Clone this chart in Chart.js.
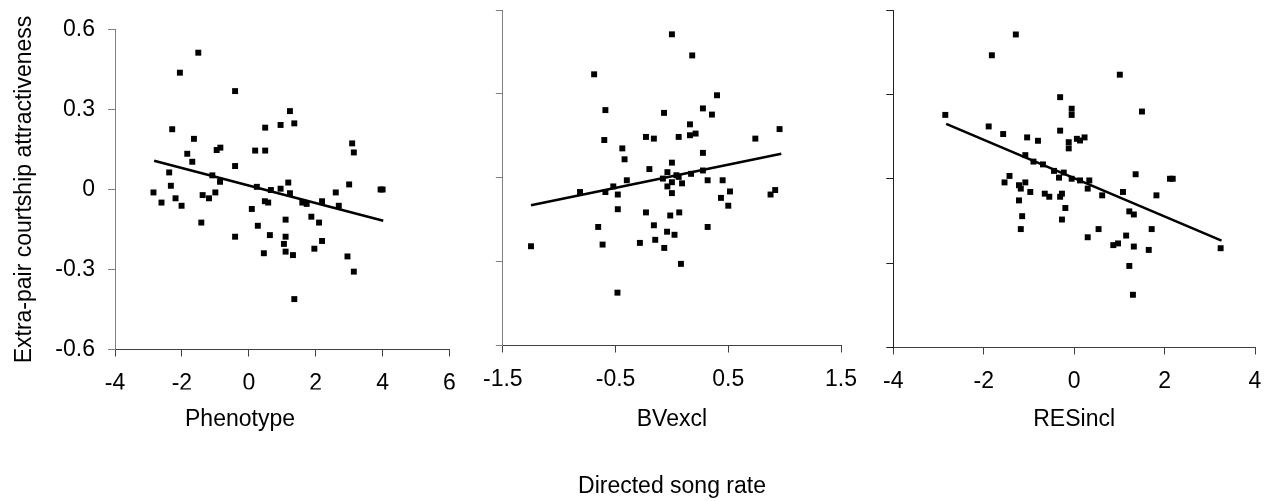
<!DOCTYPE html>
<html>
<head>
<meta charset="utf-8">
<script src="https://cdn.jsdelivr.net/npm/chart.js@4.4.0/dist/chart.umd.min.js"></script>
<style>
  html, body { margin: 0; padding: 0; background: #fff; }
  #wrap { position: relative; width: 1275px; height: 501px; overflow: hidden; }
  #wrap canvas { position: absolute; top: 0; }
  #xtitle {
    position: absolute; left: 472px; width: 400px; top: 472px; line-height: 26px;
    text-align: center; font-size: 23px; font-family: "Liberation Sans", Arial, sans-serif; color: #000;
  }
</style>
</head>
<body>
<div id="wrap">
  <canvas id="phenoChart" width="470" height="501" style="left:0px"></canvas>
  <canvas id="bvChart" width="400" height="501" style="left:470px"></canvas>
  <canvas id="resChart" width="405" height="501" style="left:870px"></canvas>
  <div id="xtitle">Directed song rate</div>
</div>
<script>
// Phenotype panel
const phenoX = [-1.51, -2.06, -0.41, 1.23, 0.95, 1.36, 0.49, -2.29, -1.64, 3.09, 3.14, -0.96, -0.85, 0.19, 0.49,
    -1.84, -1.69, -0.41, -2.38, -1.09, -0.86, 1.18, -2.33, 3.0, 0.24, 0.95, 3.94, 4.0, -2.85, -2.61, -2.19, -2.01,
    -1.38, -1.19, -1.0, -1.42, -0.41, 0.09, 0.66, 0.48, 0.58, 1.23, 0.27, 0.63, 0.45, 1.1, 1.1, 1.05, 1.1, 1.32,
    1.36, 1.6, 1.73, 1.87, 2.1, 2.19, 2.19, 1.96, 2.6, 2.69, 2.95, 3.14];
const phenoY = [0.513, 0.438, 0.369, 0.294, 0.242, 0.248, 0.232, 0.226, 0.19, 0.173, 0.139, 0.148, 0.157, 0.146, 0.146,
    0.134, 0.104, 0.088, 0.064, 0.053, 0.029, 0.026, 0.014, 0.019, 0.01, 0.003, 0.0, 0.0, -0.011, -0.049, -0.033, -0.061,
    -0.021, -0.033, -0.011, -0.124, -0.177, -0.073, -0.002, -0.044, -0.049, -0.014, -0.136, -0.171, -0.239, -0.113, -0.177, -0.204, -0.233, -0.246,
    -0.411, -0.049, -0.054, -0.102, -0.124, -0.044, -0.193, -0.222, -0.011, -0.061, -0.251, -0.308];
const phenoFitX = [-2.83, 4.02];
const phenoFitY = [0.108, -0.117];
const phenoTicks = [-4, -2, 0, 2, 4, 6];

// BVexcl panel
const bvX = [0.0, 0.18, -0.69, 0.40, -0.59, 0.275, 0.355, -0.07, 0.16, 0.955, -0.60, -0.23, -0.16, 0.06, 0.16,
    0.21, 0.74, -0.44, -0.42, 0.275, 0.0, -0.2, -0.04, -0.08, 0.04, 0.06, 0.17, 0.275, -0.40, 0.317,
    0.45, 0.0, 0.09, -0.52, -0.04, -0.815, -0.59, -0.48, 0.0, 0.435, 0.515, 0.50, 0.916, 0.875, -0.48,
    -0.23, -0.015, 0.065, -0.654, -0.16, 0.317, -0.043, 0.023, -1.25, -0.615, -0.284, -0.148, -0.068, 0.08, -0.483];
const bvY = [0.513, 0.4375, 0.37, 0.295, 0.242, 0.248, 0.226, 0.232, 0.191, 0.174, 0.135, 0.146, 0.14, 0.146, 0.152,
    0.158, 0.14, 0.105, 0.066, 0.089, 0.054, 0.031, 0.02, -0.003, 0.009, 0.003, 0.014, 0.026, -0.009, -0.009,
    -0.009, -0.016, -0.02, -0.031, -0.031, -0.051, -0.051, -0.06, -0.055, -0.072, -0.049, -0.1, -0.044, -0.06, -0.1125,
    -0.124, -0.135, -0.124, -0.176, -0.17, -0.176, -0.193, -0.204, -0.245, -0.239, -0.233, -0.222, -0.251, -0.308, -0.411];
const bvFitX = [-1.25, 0.97];
const bvFitY = [-0.098, 0.086];
const bvTicks = [-1.5, -0.5, 0.5, 1.5];

// RESincl panel
const resX = [-1.29, -1.82, 1.01, -0.31, 1.50, -0.055, -0.055, -2.85, -1.89, -0.31, -1.57, -1.04, -0.80, -0.12, 0.06,
    0.13, 0.23, -0.12, -1.08, -0.90, -0.69, -0.445, -0.23, -0.335, -0.055, 0.13, 0.335, 1.36, 2.12, 2.18,
    -1.43, -1.54, -1.22, -1.08, -1.18, -0.97, -0.65, -0.55, -0.31, -0.27, 0.30, 0.62, 1.08, 1.82, -1.22,
    -0.195, -1.15, -0.27, 1.22, 1.32, -1.18, 0.30, 0.54, 1.715, 0.866, 0.97, 1.15, 1.32, 1.65, 1.22, 1.30, 3.24];
const resY = [0.513, 0.439, 0.37, 0.29, 0.239, 0.249, 0.227, 0.227, 0.186, 0.171, 0.159, 0.147, 0.135, 0.13, 0.142,
    0.136, 0.147, 0.108, 0.084, 0.061, 0.051, 0.028, 0.022, 0.004, 0.0, -0.006, -0.006, 0.016, 0.0, 0.0,
    0.01, -0.013, -0.023, -0.013, -0.035, -0.047, -0.053, -0.064, -0.064, -0.053, -0.035, -0.059, -0.047, -0.059, -0.077,
    -0.104, -0.133, -0.145, -0.116, -0.127, -0.179, -0.208, -0.179, -0.179, -0.236, -0.23, -0.202, -0.241, -0.253, -0.31, -0.4125, -0.247];
const resFitX = [-2.83, 3.26];
const resFitY = [0.195, -0.22];
const resTicks = [-4, -2, 0, 2, 4];

const yTicks = [-0.6, -0.3, 0, 0.3, 0.6];
const yTitle = 'Extra-pair courtship attractiveness';

const FONT = '"Liberation Sans", Arial, sans-serif';
const TICK_SIZE = 23;
const TITLE_SIZE = 23;
const CANVAS_H = 501;
const TITLE_Y = 420;     // centre line of the panel titles
const TICK_BOX = 40;     // x axis height when the title is not part of it

function toPoints(xs, ys) {
    return xs.map((x, i) => ({ x: x, y: ys[i] }));
}

function makePanel(id, p) {
    const ctx = document.getElementById(id).getContext('2d');
    const lineH = TITLE_SIZE * 1.2;
    const font = { family: FONT, size: TITLE_SIZE, weight: 'normal' };

    // panel 1 puts its title in the title plugin so it can sit left of the plot centre
    let xAxisH, padBottom, plugTitle;
    if (p.plugTitle) {
        xAxisH = TICK_BOX;
        const gap = TITLE_Y - p.bottom - xAxisH - lineH / 2;
        plugTitle = {
            display: true, position: 'bottom', text: p.title, color: '#000', font: font,
            padding: { top: gap, bottom: 0 }
        };
        padBottom = CANVAS_H - (p.bottom + xAxisH + gap + lineH);
    } else {
        xAxisH = TITLE_Y + lineH / 2 - p.bottom;
        plugTitle = { display: false };
        padBottom = CANVAS_H - p.bottom - xAxisH;
    }

    return new Chart(ctx, {
        type: 'scatter',
        data: {
            datasets: [{
                data: toPoints(p.xs, p.ys),
                pointStyle: 'rect',
                pointRadius: 4.2,
                pointHoverRadius: 4.2,
                backgroundColor: '#000',
                borderWidth: 0,
                clip: false
            }, {
                data: toPoints(p.fitX, p.fitY),
                showLine: true,
                borderColor: '#000',
                borderWidth: 2.6,
                pointRadius: 0,
                clip: false
            }]
        },
        options: {
            responsive: false,
            animation: false,
            devicePixelRatio: 1,
            events: [],
            layout: {
                padding: { left: p.padLeft, top: p.top, right: p.right, bottom: padBottom }
            },
            plugins: { legend: { display: false }, tooltip: { enabled: false }, title: plugTitle },
            scales: {
                x: {
                    type: 'linear',
                    min: p.ticks[0],
                    max: p.ticks[p.ticks.length - 1],
                    afterBuildTicks: s => { s.ticks = p.ticks.map(v => ({ value: v })); },
                    afterFit: s => { s.height = xAxisH; },
                    border: { color: '#404040', width: 1 },
                    grid: { drawOnChartArea: false, drawTicks: true, tickLength: 7, color: '#404040' },
                    ticks: {
                        color: '#000', padding: 13, maxRotation: 0, autoSkip: false,
                        font: { family: FONT, size: TICK_SIZE },
                        callback: v => String(v)
                    },
                    title: {
                        display: !p.plugTitle, text: p.title, color: '#000', font: font, padding: 0
                    }
                },
                y: {
                    type: 'linear',
                    min: -0.6,
                    max: 0.6,
                    afterBuildTicks: s => { s.ticks = yTicks.map(v => ({ value: v })); },
                    afterFit: s => { s.width = p.left - p.padLeft; },
                    border: { color: p.yColor, width: 1 },
                    grid: { drawOnChartArea: false, drawTicks: true, tickLength: 7, color: p.yColor },
                    ticks: {
                        display: p.yLabels, color: '#000', padding: 13,
                        font: { family: FONT, size: TICK_SIZE },
                        callback: v => String(v)
                    },
                    title: {
                        display: p.yLabels, text: yTitle, color: '#000', font: font,
                        // pulls the title back out to the left edge of the canvas
                        padding: { top: 25 - p.padLeft - lineH / 2, bottom: 0 }
                    }
                }
            }
        }
    });
}

makePanel('phenoChart', {
    xs: phenoX, ys: phenoY, fitX: phenoFitX, fitY: phenoFitY, ticks: phenoTicks,
    title: 'Phenotype', plugTitle: true, padLeft: 30.5,
    left: 115, top: 29.5, right: 20.5, bottom: 349.5,
    yLabels: true, yColor: '#808080'
});

makePanel('bvChart', {
    xs: bvX, ys: bvY, fitX: bvFitX, fitY: bvFitY, ticks: bvTicks,
    title: 'BVexcl', plugTitle: false, padLeft: 0,
    left: 21.7, top: 10, right: 16.7, bottom: 345.5,
    yLabels: false, yColor: '#808080'
});

makePanel('resChart', {
    xs: resX, ys: resY, fitX: resFitX, fitY: resFitY, ticks: resTicks,
    title: 'RESincl', plugTitle: false, padLeft: 0,
    left: 23.3, top: 10, right: 20, bottom: 347.5,
    yLabels: false, yColor: '#202020'
});
</script>
</body>
</html>
